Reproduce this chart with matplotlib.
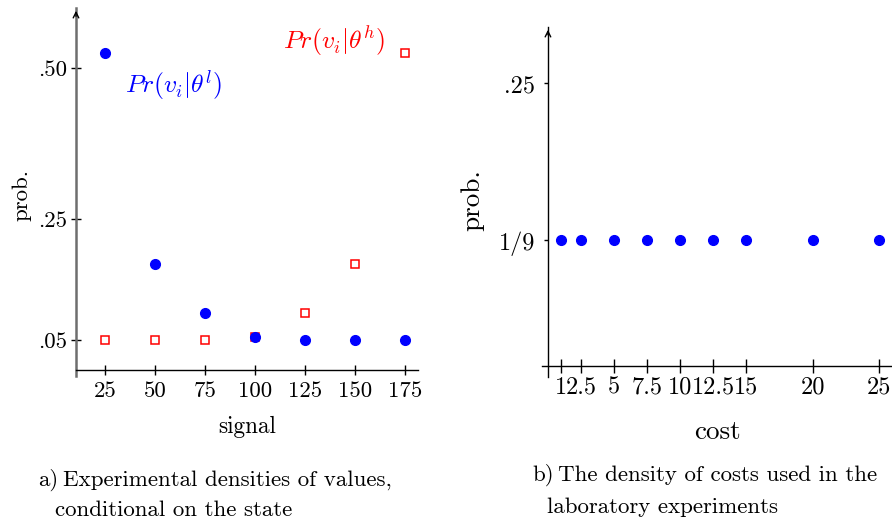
import matplotlib
matplotlib.use("Agg")
import matplotlib.pyplot as plt

plt.rcParams['font.family'] = ['cmr10', 'DejaVu Serif']
plt.rcParams['mathtext.fontset'] = 'cm'
plt.rcParams['axes.unicode_minus'] = False

# ---- data: panel a ----
signals = [25, 50, 75, 100, 125, 150, 175]
pr_low = [0.525, 0.175, 0.095, 0.055, 0.05, 0.05, 0.05]
pr_high = [0.05, 0.05, 0.05, 0.055, 0.095, 0.175, 0.525]
a_yticks = [0.05, 0.25, 0.50]
a_yticklabels = ['.05', '.25', '.50']

# ---- data: panel b ----
costs = [1, 2.5, 5, 7.5, 10, 12.5, 15, 20, 25]
cost_prob = [1 / 9] * 9
cost_ticklabels = ['1', '2.5', '5', '7.5', '10', '12.5', '15', '20', '25']
b_yticks = [1 / 9, 0.25]
b_yticklabels = ['1/9', '.25']

W, H = 892, 525
fig = plt.figure(figsize=(W / 100, H / 100), dpi=100)


def px_axes(l, t, r, b):
    return fig.add_axes([l / W, 1 - b / H, (r - l) / W, (b - t) / H])


# ---------------- panel a ----------------
ax = px_axes(76, 8, 418, 376)
ax.set_xlim(10.5, 181.5)
ax.set_ylim(-0.01, 0.6)
for s in ['top', 'right']:
    ax.spines[s].set_visible(False)
ax.spines['bottom'].set_position(('data', 0))
ax.spines['left'].set_color('#6e6e6e')
ax.spines['left'].set_linewidth(1.8)
ax.spines['bottom'].set_linewidth(1.0)
ax.patch.set_visible(False)

ax.plot(signals, pr_high, linestyle='none', marker='s', markersize=6.3,
        markerfacecolor='white', markeredgecolor='red', markeredgewidth=1.1, zorder=3)
ax.plot(signals, pr_low, linestyle='none', marker='o', markersize=7,
        color='blue', zorder=4)

ax.set_xticks(signals)
ax.set_xticklabels([str(s) for s in signals])
ax.set_yticks(a_yticks)
ax.set_yticklabels(a_yticklabels)
ax.tick_params(axis='x', direction='inout', length=7, width=1, labelsize=16.5, pad=5)
ax.tick_params(axis='y', direction='inout', length=7, width=1, labelsize=16.5, pad=3)
ax.annotate('', xy=(0, 1.0), xycoords='axes fraction', xytext=(0, 0.97),
            arrowprops=dict(arrowstyle='->', color='black', lw=1.0))

ax.text(35, 0.472, r'$Pr(v_i|\theta^l)$', color='blue', fontsize=18.5,
        ha='left', va='center')
ax.text(114, 0.546, r'$Pr(v_i|\theta^h)$', color='red', fontsize=18.5,
        ha='left', va='center')

fig.text(22 / W, 1 - 195 / H, 'prob.', rotation=90, fontsize=16.5,
         ha='center', va='center')
fig.text(247 / W, 1 - 427 / H, 'signal', fontsize=16.7, ha='center', va='center')
fig.text(38 / W, 1 - 480 / H, 'a)', fontsize=16.5, ha='left', va='center')
fig.text(63 / W, 1 - 480 / H, 'Experimental densities of values,', fontsize=16.5,
         ha='left', va='center')
fig.text(55 / W, 1 - 510 / H, 'conditional on the state', fontsize=16.5,
         ha='left', va='center')

# ---------------- panel b ----------------
bx = px_axes(542, 27, 892, 377)
bx.set_xlim(-0.45, 26)
bx.set_ylim(-0.01, 0.3)
for s in ['top', 'right']:
    bx.spines[s].set_visible(False)
bx.spines['bottom'].set_position(('data', 0))
bx.spines['left'].set_position(('data', 0))
bx.spines['left'].set_linewidth(1.0)
bx.spines['bottom'].set_linewidth(1.0)
bx.patch.set_visible(False)

bx.plot(costs, cost_prob, linestyle='none', marker='o', markersize=7,
        color='blue', zorder=4, clip_on=False)

bx.set_xticks(costs)
bx.set_xticklabels(cost_ticklabels)
bx.set_yticks(b_yticks)
bx.set_yticklabels(b_yticklabels)
bx.tick_params(axis='x', direction='inout', length=10, width=1, labelsize=17.5, pad=3)
bx.tick_params(axis='y', direction='out', length=3, width=1, labelsize=17.5, pad=6)
bx.annotate('', xy=(0, 1.0), xycoords=('data', 'axes fraction'), xytext=(0, 0.97),
            textcoords=('data', 'axes fraction'),
            arrowprops=dict(arrowstyle='->', color='black', lw=1.0))

fig.text(472 / W, 1 - 200 / H, 'prob.', rotation=90, fontsize=19.5,
         ha='center', va='center')
fig.text(717 / W, 1 - 432 / H, 'cost', fontsize=19.5, ha='center', va='center')
fig.text(532 / W, 1 - 475 / H, 'b)', fontsize=16.5, ha='left', va='center')
fig.text(558 / W, 1 - 475 / H, 'The density of costs used in the', fontsize=16.5,
         ha='left', va='center')
fig.text(547 / W, 1 - 507 / H, 'laboratory experiments', fontsize=16.5,
         ha='left', va='center')

fig.savefig('out.png', dpi=100)
